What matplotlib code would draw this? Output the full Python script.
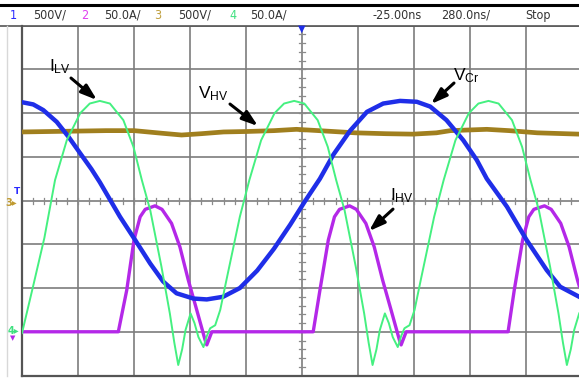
import matplotlib.pyplot as plt

# screen coordinates in divisions: x 0..10, y -4..4
blue_x = [0, 0.2, 0.38, 0.62, 0.83, 1.04, 1.24, 1.39, 1.75, 2.02, 2.29, 2.52, 2.76, 3.06,
          3.30, 3.59, 3.89, 4.2, 4.5, 4.79, 5.05, 5.32, 5.56, 5.86, 6.16, 6.45, 6.75, 7.05,
          7.29, 7.58, 7.88, 8.12, 8.3, 8.66, 9.01, 9.37, 9.61, 9.95]
blue_y = [2.25, 2.2, 2.07, 1.8, 1.46, 1.08, 0.72, 0.42, -0.37, -0.9, -1.44, -1.85, -2.12, -2.24,
          -2.26, -2.2, -2.0, -1.6, -1.1, -0.55, -0.02, 0.5, 1.05, 1.6, 2.03, 2.22, 2.28, 2.26,
          2.15, 1.84, 1.38, 0.93, 0.5, -0.14, -0.9, -1.59, -1.97, -2.2]

green_x = [0.0, 0.2, 0.4, 0.59, 0.8, 1.04, 1.21, 1.39, 1.57, 1.81, 1.99, 2.14, 2.29, 2.49,
           2.64, 2.72, 2.79, 2.86, 2.92, 3.01, 3.08, 3.15, 3.24, 3.30, 3.36, 3.45, 3.54, 3.65,
           3.89, 4.06, 4.27, 4.51, 4.68, 4.86, 5.04, 5.28, 5.46, 5.61, 5.76, 5.96, 6.11, 6.19,
           6.26, 6.33, 6.39, 6.48, 6.55, 6.62, 6.71, 6.77, 6.83, 6.92, 7.01, 7.12, 7.36, 7.53,
           7.74, 7.98, 8.15, 8.33, 8.51, 8.75, 8.93, 9.08, 9.23, 9.43, 9.58, 9.66, 9.73, 9.80,
           9.86, 9.95]
green_y = [-3.03, -1.95, -0.85, 0.47, 1.38, 2.0, 2.22, 2.28, 2.22, 1.84, 1.23, 0.47, -0.22, -1.51,
           -2.58, -3.25, -3.76, -3.4, -2.96, -2.58, -2.8, -3.12, -3.35, -3.1, -2.92, -2.85, -2.5, -1.82,
           -0.37, 0.47, 1.38, 2.0, 2.22, 2.28, 2.22, 1.84, 1.23, 0.47, -0.22, -1.51, -2.58, -3.25,
           -3.76, -3.4, -2.96, -2.58, -2.8, -3.12, -3.35, -3.1, -2.92, -2.85, -2.5, -1.82, -0.37, 0.47,
           1.38, 2.0, 2.22, 2.28, 2.22, 1.84, 1.23, 0.47, -0.22, -1.51, -2.58, -3.25, -3.76, -3.4,
           -2.96, -2.58]

purple_x = [0, 1.72, 1.87, 2.0, 2.11, 2.2, 2.375, 2.5, 2.67, 2.82, 2.97, 3.12, 3.27, 3.30, 3.39,
            5.2, 5.32, 5.47, 5.58, 5.67, 5.85, 5.97, 6.14, 6.29, 6.44, 6.59, 6.74, 6.77, 6.86,
            8.68, 8.79, 8.94, 9.05, 9.14, 9.33, 9.45, 9.62, 9.77, 9.92, 9.95]
purple_y = [-3.0, -3.0, -2.05, -0.9, -0.37, -0.2, -0.12, -0.2, -0.52, -1.06, -1.82, -2.5, -3.19, -3.3, -3.0,
            -3.0, -2.05, -0.9, -0.37, -0.2, -0.12, -0.2, -0.52, -1.06, -1.82, -2.5, -3.19, -3.3, -3.0,
            -3.0, -2.05, -0.9, -0.37, -0.2, -0.12, -0.2, -0.52, -1.06, -1.82, -1.95]

brown_x = [0, 0.5, 1.0, 1.5, 2.0, 2.5, 2.85, 3.2, 3.6, 4.0, 4.5, 4.9, 5.3, 5.95, 6.5, 6.98,
           7.4, 7.65, 8.3, 8.7, 9.2, 9.95]
brown_y = [1.57, 1.58, 1.59, 1.6, 1.6, 1.54, 1.5, 1.53, 1.57, 1.58, 1.6, 1.63, 1.6, 1.55, 1.53, 1.52,
           1.55, 1.6, 1.63, 1.6, 1.55, 1.52]

header = [("1", "#2a2aff", 13), ("500V/", "#333333", 50), ("2", "#e040f0", 85),
          ("50.0A/", "#333333", 122), ("3", "#c0a040", 158), ("500V/", "#333333", 195),
          ("4", "#40e080", 233), ("50.0A/", "#333333", 268), ("-25.00ns", "#333333", 397),
          ("280.0ns/", "#333333", 466), ("Stop", "#333333", 538)]

W, H = 579, 380
fig = plt.figure(figsize=(W / 100, H / 100), dpi=100)
x0, x1 = 22, 579
y_top, y_bot = 25.7, 375.5
ax = fig.add_axes([x0 / W, (H - y_bot) / H, (x1 - x0) / W, (y_bot - y_top) / H])
ax.set_xlim(0, (x1 - x0) / 56)
ax.set_ylim(-4, 4)
ax.set_xticks([])
ax.set_yticks([])
for s in ["top", "right"]:
    ax.spines[s].set_visible(False)
for s in ["left", "bottom"]:
    ax.spines[s].set_color("#555555")
    ax.spines[s].set_linewidth(1.6)

# graticule
for i in range(1, 10):
    ax.axvline(i, color="#7d7d7d", lw=1.2, zorder=1)
for j in range(-3, 5):
    ax.axhline(j, color="#7d7d7d", lw=1.2, zorder=1)
for k in range(1, 50):
    ax.plot([k / 5, k / 5], [-0.07, 0.07], color="#8a8a8a", lw=0.9, zorder=1)
for k in range(-19, 20):
    ax.plot([4.955, 5.045], [k / 5, k / 5], color="#8a8a8a", lw=0.9, zorder=1)

# traces
ax.plot(brown_x, brown_y, color="#a07f1e", lw=3.4, zorder=3)
ax.plot(purple_x, purple_y, color="#b428e8", lw=2.4, zorder=4)
ax.plot(blue_x, blue_y, color="#1f2ee8", lw=3.2, zorder=5)
ax.plot(green_x, green_y, color="#45f080", lw=1.4, zorder=6)

# annotations (pixel positions converted to divisions)
fx = lambda p: (p - 22) / 56
fy = lambda p: (200.5 - p) / 43.7
arr = dict(arrowstyle="-|>,head_length=0.95,head_width=0.32", color="black", lw=2.2,
           shrinkA=0, shrinkB=0)
def ann(txt, tx, ty, sx, sy, ex, ey):
    ax.text(fx(tx), fy(ty), txt, fontsize=12.5, family="Liberation Sans", color="black",
            ha="center", va="center", zorder=10)
    ax.annotate("", xy=(fx(ex), fy(ey)), xytext=(fx(sx), fy(sy)), arrowprops=arr, zorder=10)

ann(r"$\mathregular{I_{LV}}$", 60, 67, 71, 78, 97, 100)
ann(r"$\mathregular{V_{HV}}$", 213, 94, 230, 104, 258, 126)
ann(r"$\mathregular{V_{Cr}}$", 466, 76, 454, 83, 431, 104)
ann(r"$\mathregular{I_{HV}}$", 402, 196, 393, 209, 369, 231)

# header bar
fig.add_artist(plt.Line2D([0, 1], [1 - 4.5 / H, 1 - 4.5 / H], color="black", lw=2.2))
fig.add_artist(plt.Line2D([0, 1], [1 - 25.7 / H, 1 - 25.7 / H], color="#555555", lw=1.2))
fig.add_artist(plt.Line2D([7 / W, 7 / W], [4.5 / H, 1 - 25.7 / H], color="#d8d8d8", lw=1.0))
for txt, col, xc in header:
    fig.text(xc / W, 1 - 15.5 / H, txt, color=col, ha="center", va="center",
             fontsize=9, family="DejaVu Sans", stretch="condensed")

# channel markers on the left and trigger marker on top
fig.text(17 / W, 1 - 192 / H, "T", color="#2a2aff", fontsize=6.5, ha="center", va="center",
         weight="bold")
fig.text(11 / W, 1 - 203 / H, "3\u25B8", color="#c09a30", fontsize=7, ha="center", va="center",
         weight="bold")
fig.text(13 / W, 1 - 331 / H, "4\u25B8", color="#40e080", fontsize=7, ha="center", va="center",
         weight="bold")
fig.text(13 / W, 1 - 338 / H, "\u25BC", color="#b428e8", fontsize=5, ha="center", va="center")
fig.text(302 / W, 1 - 29 / H, "\u25BC", color="#1f2ee8", fontsize=7, ha="center", va="center")

fig.savefig("out.png", dpi=100)
